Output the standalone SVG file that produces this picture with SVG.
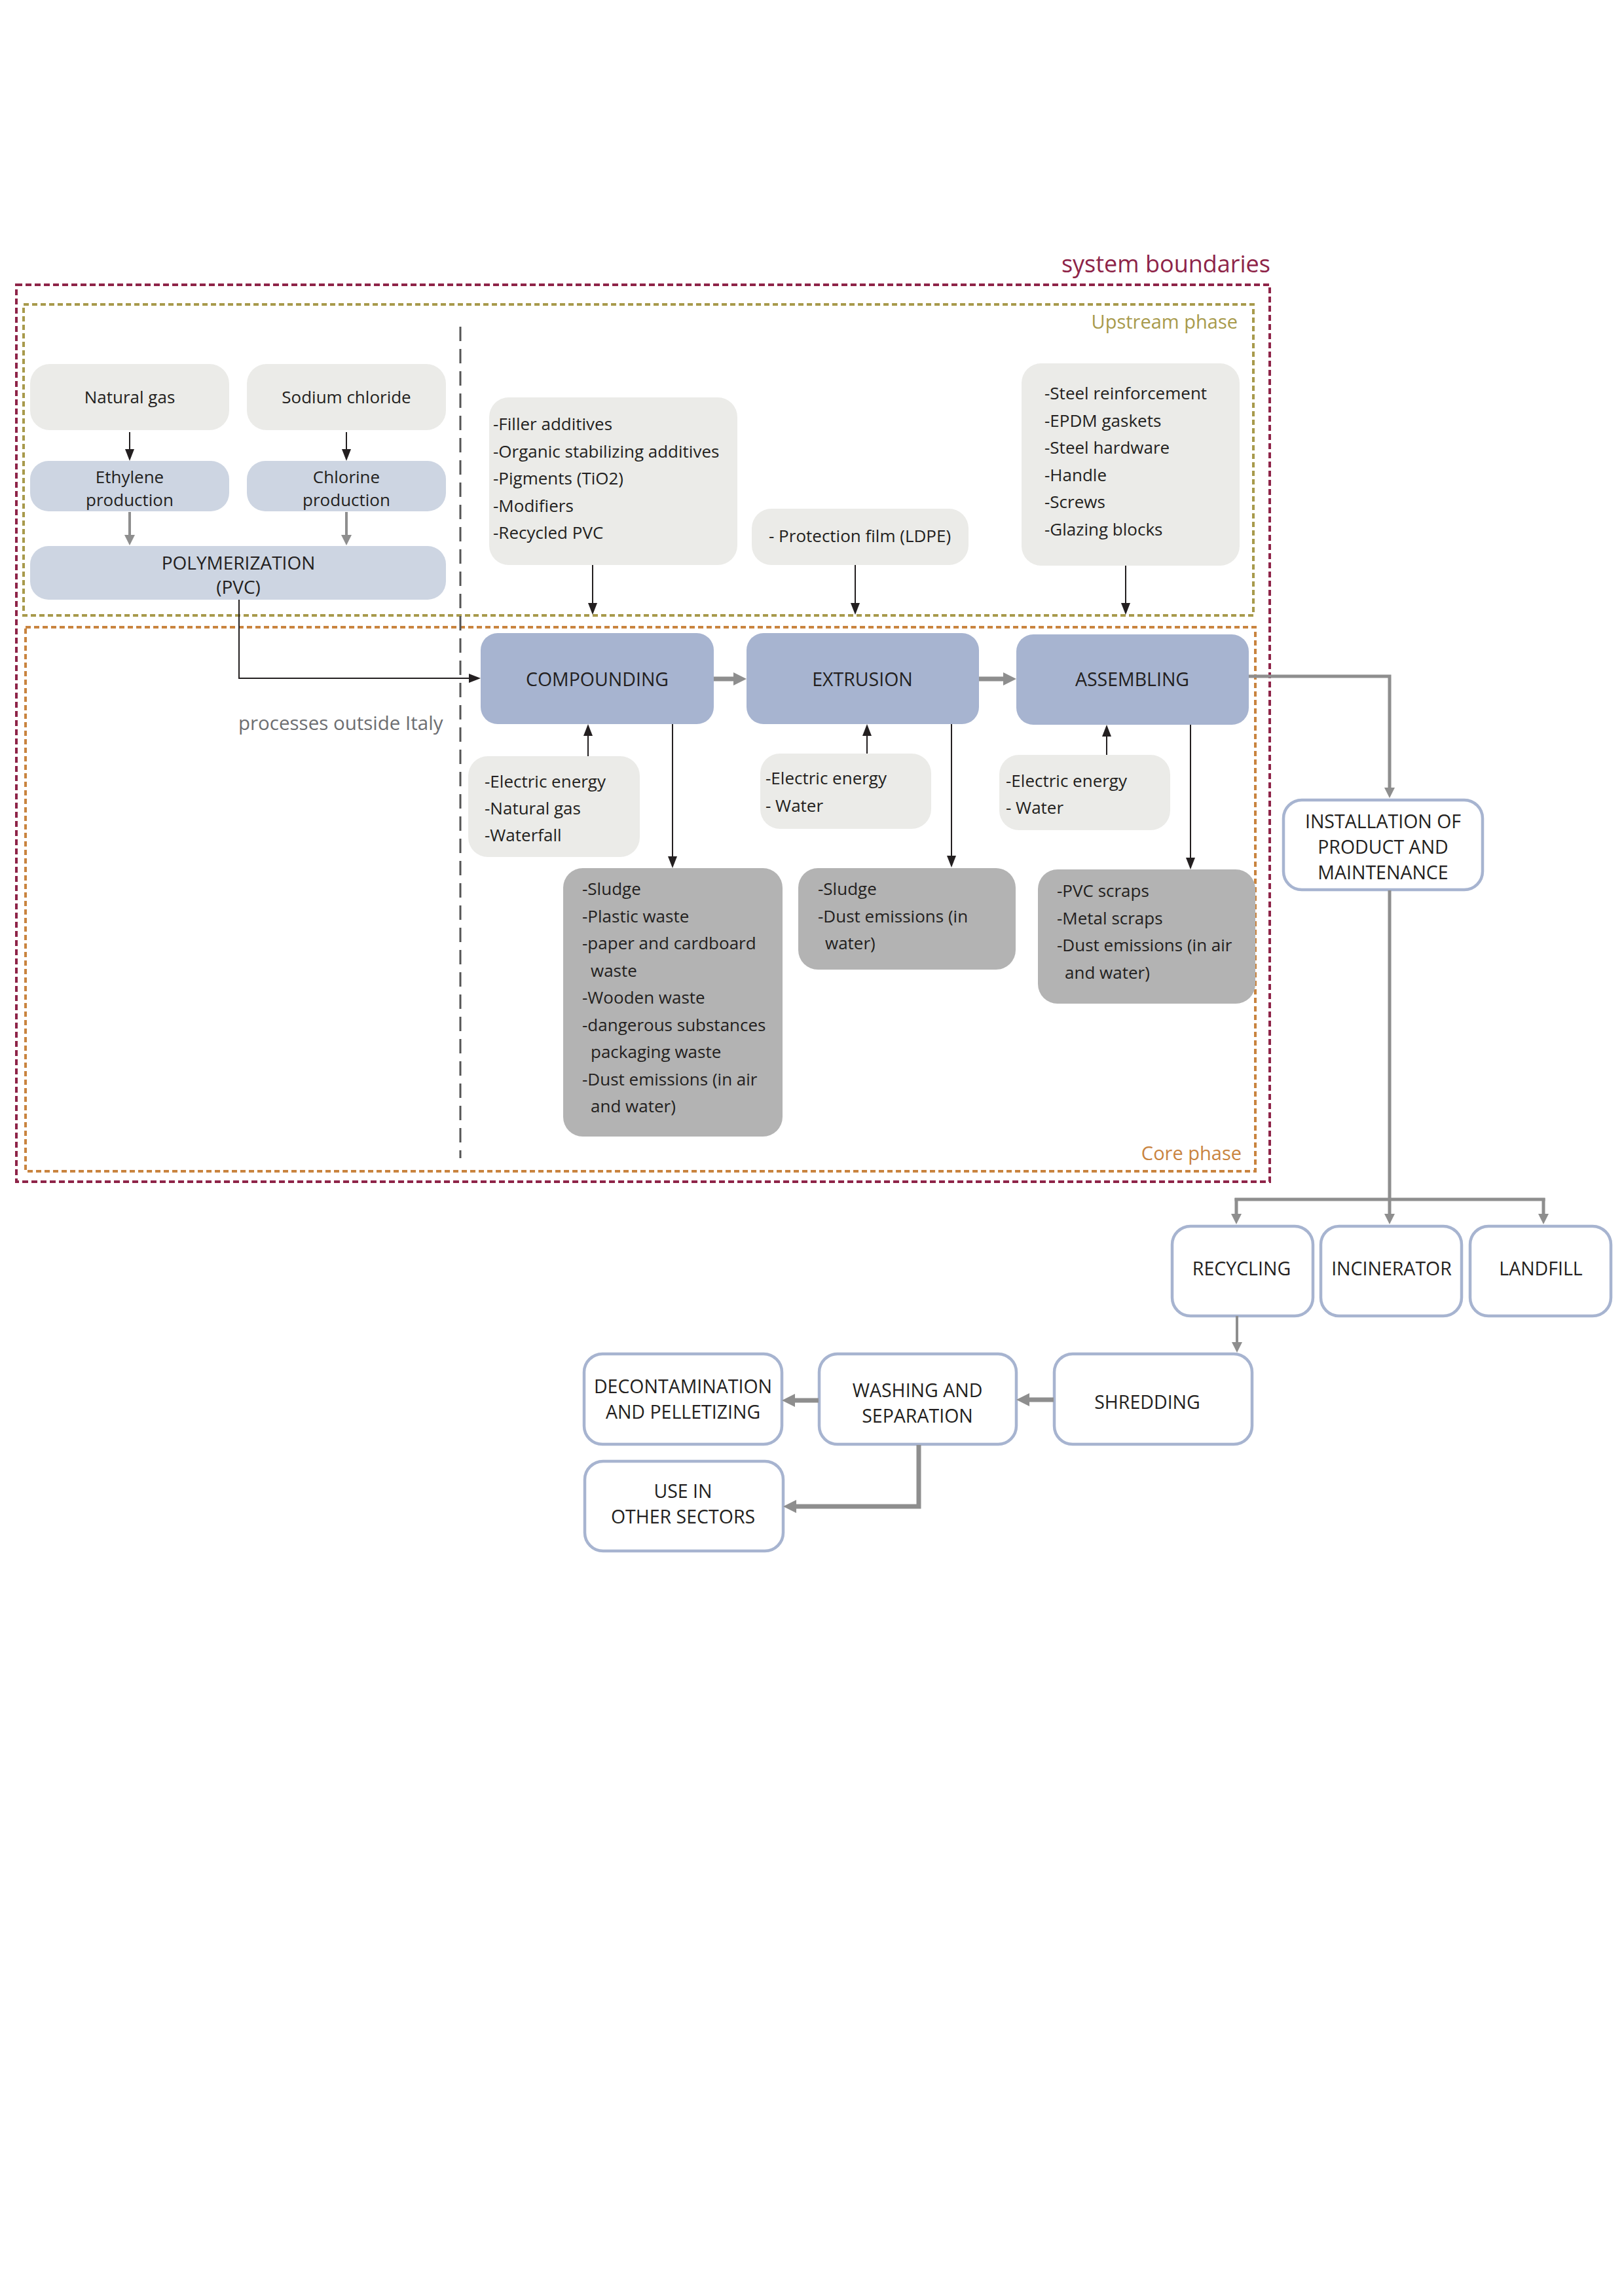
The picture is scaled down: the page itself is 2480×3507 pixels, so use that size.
<svg xmlns="http://www.w3.org/2000/svg" width="2480" height="3507" viewBox="0 0 2480 3507">
<style>
text{font-family:"Open Sans","Liberation Sans",sans-serif;fill:#231f20}
.t26{font-size:26px}
.t29{font-size:28.5px}
.c{text-anchor:middle}
.inp{fill:#ebebe8}
.lb{fill:#cdd5e2}
.proc{fill:#a7b4d0}
.out{fill:#b3b3b3}
.eol{fill:#ffffff;stroke:#a7b4d0;stroke-width:4.5}
.bk{fill:none;stroke:#231f20;stroke-width:2}
.g4{fill:none;stroke:#8e8e8e;stroke-width:4}
.g5{fill:none;stroke:#8e8e8e;stroke-width:5}
.g7{fill:none;stroke:#8e8e8e;stroke-width:7}
</style>
<defs>
<marker id="ab" markerWidth="18" markerHeight="14" refX="0" refY="7" orient="auto" markerUnits="userSpaceOnUse"><path d="M0,0 L18,7 L0,14 Z" fill="#231f20"/></marker>
<marker id="ag" markerWidth="16" markerHeight="16" refX="0" refY="8" orient="auto" markerUnits="userSpaceOnUse"><path d="M0,0 L16,8 L0,16 Z" fill="#8e8e8e"/></marker>
<marker id="agl" markerWidth="20" markerHeight="20" refX="0" refY="10" orient="auto" markerUnits="userSpaceOnUse"><path d="M0,0 L20,10 L0,20 Z" fill="#8e8e8e"/></marker>
</defs>
<rect width="2480" height="3507" fill="#ffffff"/>

<g id="boundaries">
<rect x="25" y="435" width="1914" height="1370" fill="none" stroke="#8e2448" stroke-width="4" stroke-dasharray="9 5"/>
<rect x="36" y="465" width="1878" height="475" fill="none" stroke="#a89a4c" stroke-width="4" stroke-dasharray="8 5"/>
<rect x="39" y="958" width="1878" height="831" fill="none" stroke="#c9843f" stroke-width="4" stroke-dasharray="8 5"/>
<line x1="703" y1="499" x2="703" y2="1769" stroke="#555555" stroke-width="3" stroke-dasharray="22 12"/>
<text x="1940" y="416" style="font-size:36px;fill:#8e2448;text-anchor:end">system boundaries</text>
<text x="1890" y="502" style="font-size:29px;fill:#a89a4c;text-anchor:end">Upstream phase</text>
<text x="1896" y="1772" style="font-size:29px;fill:#c9843f;text-anchor:end">Core phase</text>
<text x="364" y="1115" style="font-size:29.5px;fill:#6d6e71">processes outside Italy</text>
</g>

<g id="natural-gas"><rect class="inp" x="46" y="556" width="304" height="101" rx="30"/><text class="t26 c" x="198" y="616">Natural gas</text></g>
<g id="sodium-chloride"><rect class="inp" x="377" y="556" width="304" height="101" rx="30"/><text class="t26 c" x="529" y="616">Sodium chloride</text></g>
<g id="ethylene"><rect class="lb" x="46" y="704" width="304" height="77" rx="28"/><text class="t26 c" x="198" y="738">Ethylene</text><text class="t26 c" x="198" y="773">production</text></g>
<g id="chlorine"><rect class="lb" x="377" y="704" width="304" height="77" rx="28"/><text class="t26 c" x="529" y="738">Chlorine</text><text class="t26 c" x="529" y="773">production</text></g>
<g id="polymerization"><rect class="lb" x="46" y="834" width="635" height="82" rx="28"/><text class="c" x="364" y="870" style="font-size:28px">POLYMERIZATION</text><text class="c" x="364" y="907" style="font-size:28px">(PVC)</text></g>

<g id="compounding-inputs"><rect class="inp" x="747" y="607" width="379" height="256" rx="30"/>
<text class="t26" x="753" y="657">-Filler additives</text>
<text class="t26" x="753" y="698.5">-Organic stabilizing additives</text>
<text class="t26" x="753" y="740">-Pigments (TiO2)</text>
<text class="t26" x="753" y="781.5">-Modifiers</text>
<text class="t26" x="753" y="823">-Recycled PVC</text></g>
<g id="extrusion-inputs"><rect class="inp" x="1148" y="777" width="331" height="86" rx="30"/><text class="t26" x="1174" y="828">- Protection film (LDPE)</text></g>
<g id="assembling-inputs"><rect class="inp" x="1560" y="555" width="333" height="309" rx="30"/>
<text class="t26" x="1595" y="610">-Steel reinforcement</text>
<text class="t26" x="1595" y="651.5">-EPDM gaskets</text>
<text class="t26" x="1595" y="693">-Steel hardware</text>
<text class="t26" x="1595" y="734.5">-Handle</text>
<text class="t26" x="1595" y="776">-Screws</text>
<text class="t26" x="1595" y="817.5">-Glazing blocks</text></g>

<g id="compounding"><rect class="proc" x="734" y="967" width="356" height="139" rx="26"/><text class="t29 c" x="912" y="1048">COMPOUNDING</text></g>
<g id="extrusion"><rect class="proc" x="1140" y="967" width="355" height="139" rx="26"/><text class="t29 c" x="1317" y="1048">EXTRUSION</text></g>
<g id="assembling"><rect class="proc" x="1552" y="969" width="355" height="138" rx="26"/><text class="t29 c" x="1729" y="1048">ASSEMBLING</text></g>

<g id="compounding-energy"><rect class="inp" x="715" y="1155" width="262" height="154" rx="30"/>
<text class="t26" x="740" y="1203">-Electric energy</text>
<text class="t26" x="740" y="1244">-Natural gas</text>
<text class="t26" x="740" y="1285">-Waterfall</text></g>
<g id="extrusion-energy"><rect class="inp" x="1161" y="1151" width="261" height="115" rx="30"/>
<text class="t26" x="1169" y="1198">-Electric energy</text>
<text class="t26" x="1169" y="1240">- Water</text></g>
<g id="assembling-energy"><rect class="inp" x="1526" y="1153" width="261" height="115" rx="30"/>
<text class="t26" x="1536" y="1202">-Electric energy</text>
<text class="t26" x="1536" y="1243">- Water</text></g>

<g id="compounding-outputs"><rect class="out" x="860" y="1326" width="335" height="410" rx="30"/>
<text class="t26" x="889" y="1367">-Sludge</text>
<text class="t26" x="889" y="1408.5">-Plastic waste</text>
<text class="t26" x="889" y="1450">-paper and cardboard</text>
<text class="t26" x="902" y="1491.5">waste</text>
<text class="t26" x="889" y="1533">-Wooden waste</text>
<text class="t26" x="889" y="1574.5">-dangerous substances</text>
<text class="t26" x="902" y="1616">packaging waste</text>
<text class="t26" x="889" y="1657.5">-Dust emissions (in air</text>
<text class="t26" x="902" y="1699">and water)</text></g>
<g id="extrusion-outputs"><rect class="out" x="1219" y="1326" width="332" height="155" rx="30"/>
<text class="t26" x="1249" y="1367">-Sludge</text>
<text class="t26" x="1249" y="1408.5">-Dust emissions (in</text>
<text class="t26" x="1260" y="1450">water)</text></g>
<g id="assembling-outputs"><rect class="out" x="1585" y="1328" width="332" height="205" rx="30"/>
<text class="t26" x="1614" y="1370">-PVC scraps</text>
<text class="t26" x="1614" y="1411.5">-Metal scraps</text>
<text class="t26" x="1614" y="1453">-Dust emissions (in air</text>
<text class="t26" x="1626" y="1494.5">and water)</text></g>

<g id="installation"><rect class="eol" x="1960" y="1222" width="304" height="137" rx="28"/>
<text class="t29 c" x="2112" y="1265">INSTALLATION OF</text>
<text class="t29 c" x="2112" y="1304">PRODUCT AND</text>
<text class="t29 c" x="2112" y="1343">MAINTENANCE</text></g>
<g id="recycling"><rect class="eol" x="1790" y="1873" width="215" height="137" rx="28"/><text class="t29 c" x="1896" y="1948">RECYCLING</text></g>
<g id="incinerator"><rect class="eol" x="2017" y="1873" width="215" height="137" rx="28"/><text class="t29 c" x="2125" y="1948">INCINERATOR</text></g>
<g id="landfill"><rect class="eol" x="2245" y="1873" width="215" height="137" rx="28"/><text class="t29 c" x="2353" y="1948">LANDFILL</text></g>
<g id="shredding"><rect class="eol" x="1610" y="2068" width="302" height="138" rx="28"/><text class="t29 c" x="1752" y="2152">SHREDDING</text></g>
<g id="washing"><rect class="eol" x="1251" y="2068" width="301" height="138" rx="28"/><text class="t29 c" x="1401" y="2134">WASHING AND</text><text class="t29 c" x="1401" y="2173">SEPARATION</text></g>
<g id="decontamination"><rect class="eol" x="892" y="2068" width="302" height="138" rx="28"/><text class="t29 c" x="1043" y="2128">DECONTAMINATION</text><text class="t29 c" x="1043" y="2167">AND PELLETIZING</text></g>
<g id="use-other-sectors"><rect class="eol" x="893" y="2232" width="303" height="137" rx="28"/><text class="t29 c" x="1043" y="2288">USE IN</text><text class="t29 c" x="1043" y="2327">OTHER SECTORS</text></g>

<g id="connectors">
<path class="bk" d="M198,660 V686" marker-end="url(#ab)"/>
<path class="bk" d="M529,660 V686" marker-end="url(#ab)"/>
<path class="g4" d="M198,782 V817" marker-end="url(#ag)"/>
<path class="g4" d="M529,782 V817" marker-end="url(#ag)"/>
<path class="bk" d="M365,916 V1036 H716" marker-end="url(#ab)"/>
<path class="bk" d="M905,863 V921" marker-end="url(#ab)"/>
<path class="bk" d="M1306,863 V921" marker-end="url(#ab)"/>
<path class="bk" d="M1719,864 V921" marker-end="url(#ab)"/>
<path class="g7" d="M1090,1037 H1120" marker-end="url(#agl)"/>
<path class="g7" d="M1495,1037 H1532" marker-end="url(#agl)"/>
<path class="bk" d="M898,1155 V1124" marker-end="url(#ab)"/>
<path class="bk" d="M1324,1151 V1124" marker-end="url(#ab)"/>
<path class="bk" d="M1690,1153 V1125" marker-end="url(#ab)"/>
<path class="bk" d="M1027,1106 V1308" marker-end="url(#ab)"/>
<path class="bk" d="M1453,1106 V1307" marker-end="url(#ab)"/>
<path class="bk" d="M1818,1107 V1310" marker-end="url(#ab)"/>
<path class="g5" d="M1907,1033 H2122 V1203" marker-end="url(#ag)"/>
<path class="g5" d="M2122,1360 V1832 M1885.5,1832 H2359.5"/>
<path class="g5" d="M1888,1830 V1854" marker-end="url(#ag)"/>
<path class="g5" d="M2122,1830 V1854" marker-end="url(#ag)"/>
<path class="g5" d="M2357,1830 V1854" marker-end="url(#ag)"/>
<path class="g4" d="M1889,2010 V2050" marker-end="url(#ag)"/>
<path class="g7" d="M1609,2138 H1572" marker-end="url(#agl)"/>
<path class="g7" d="M1250,2139 H1214" marker-end="url(#agl)"/>
<path class="g7" d="M1403,2207 V2301 H1216" marker-end="url(#agl)"/>
</g>
</svg>
